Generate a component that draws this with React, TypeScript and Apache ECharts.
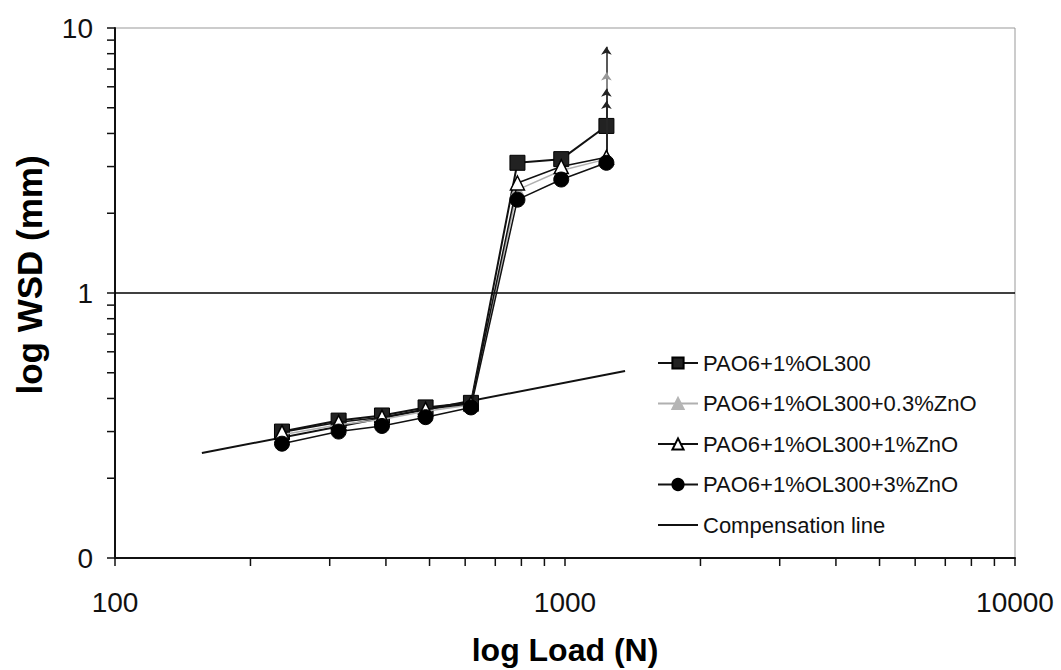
import React, { useEffect, useRef } from "react";
import * as echarts from "echarts";

// Loads (N)
const loads = [235, 314, 392, 490, 618, 784, 981, 1236];
// WSD (mm) per lubricant
const wsdOL300 = [0.3, 0.33, 0.345, 0.37, 0.385, 3.1, 3.2, 4.27];
const wsdZnO03 = [0.292, 0.318, 0.333, 0.358, 0.378, 2.45, 2.9, 3.2];
const wsdZnO1 = [0.298, 0.325, 0.34, 0.364, 0.382, 2.6, 3.0, 3.25];
const wsdZnO3 = [0.27, 0.3, 0.315, 0.34, 0.37, 2.25, 2.68, 3.1];
// Arrow tips above the last load (welding)
const arrowTops = [8.5, 6.8, 5.9, 5.3];
// Compensation line
const compLoads = [156, 1360];
const compWsd = [0.249, 0.508];

const seriesNames = [
  "PAO6+1%OL300",
  "PAO6+1%OL300+0.3%ZnO",
  "PAO6+1%OL300+1%ZnO",
  "PAO6+1%OL300+3%ZnO",
  "Compensation line",
];

// Axis ticks
const xMin = 100;
const xMax = 10000;
const yMin = 0.1;
const yMax = 10;
const xTickValues = [100, 200, 300, 400, 500, 600, 700, 800, 900, 1000, 2000, 3000, 4000, 5000, 6000, 7000, 8000, 9000, 10000];
const yTickValues = [0.1, 0.2, 0.3, 0.4, 0.5, 0.6, 0.7, 0.8, 0.9, 1, 2, 3, 4, 5, 6, 7, 8, 9, 10];
const yLabelValues = [0.1, 1, 10];
const yLabelTexts = ["0", "1", "10"];
const refLineY = 1;

const FONT = "'Liberation Sans', Arial, Helvetica, sans-serif";
const TICK_LEN = 8;

export default function App() {
  const ref = useRef<HTMLDivElement>(null);
  useEffect(() => {
    if (!ref.current) return;
    const chart = echarts.init(ref.current, undefined, { renderer: "svg" });
    const seriesData = [wsdOL300, wsdZnO03, wsdZnO1, wsdZnO3];
    const styles = [
      { symbol: "rect", size: 15, fill: "#222", border: "#000", line: "#111", lw: 2 },
      { symbol: "triangle", size: 14, fill: "#b5b5b5", border: "#b5b5b5", line: "#b0b0b0", lw: 1.5 },
      { symbol: "triangle", size: 14, fill: "#fff", border: "#000", line: "#111", lw: 1.5 },
      { symbol: "circle", size: 15, fill: "#000", border: "#000", line: "#111", lw: 1.5 },
    ];
    const dataSeries = seriesData.map((vals, i) => {
      const st = styles[i];
      const last = loads.length - 1;
      return {
        name: seriesNames[i],
        type: "line",
        data: loads.map((x, j) => [x, vals[j]]),
        symbol: st.symbol,
        symbolSize: st.size,
        z: 3 + i,
        itemStyle: { color: st.fill, borderColor: st.border, borderWidth: i === 2 ? 1.5 : 1 },
        lineStyle: { color: st.line, width: st.lw },
        markLine: {
          silent: true,
          symbol: ["none", "arrow"],
          symbolSize: 8,
          label: { show: false },
          lineStyle: { color: i === 1 ? "#999" : "#222", width: 1.5, type: "solid" },
          data: [[{ coord: [loads[last], vals[last]] }, { coord: [loads[last], arrowTops[i]] }]],
        },
      };
    });

    const tickStyle = { stroke: "#111", lineWidth: 1.5 };
    const xTickSeries = {
      type: "custom",
      silent: true,
      clip: false,
      z: 10,
      data: xTickValues.map((v) => [v, yMin]),
      renderItem: (_p: any, api: any) => {
        const pt = api.coord([api.value(0), api.value(1)]);
        return {
          type: "line",
          shape: { x1: pt[0], y1: pt[1], x2: pt[0], y2: pt[1] + TICK_LEN },
          style: tickStyle,
        };
      },
    };
    const yTickSeries = {
      type: "custom",
      silent: true,
      clip: false,
      z: 10,
      data: yTickValues.map((v) => [xMin, v]),
      renderItem: (_p: any, api: any) => {
        const pt = api.coord([api.value(0), api.value(1)]);
        return {
          type: "line",
          shape: { x1: pt[0], y1: pt[1], x2: pt[0] - TICK_LEN, y2: pt[1] },
          style: tickStyle,
        };
      },
    };

    const option = {
      animation: false,
      backgroundColor: "#fff",
      textStyle: { fontFamily: FONT },
      grid: {
        left: 115,
        right: 46,
        top: 28,
        bottom: 112,
        outerBoundsMode: "none",
        containLabel: false,
        show: true,
        borderColor: "#999",
        borderWidth: 1,
      },
      legend: {
        orient: "vertical",
        left: 652,
        top: 347,
        itemWidth: 40,
        itemHeight: 14,
        itemGap: 18.5,
        textStyle: { fontSize: 22, color: "#111", fontFamily: FONT },
        data: [
          seriesNames[0],
          seriesNames[1],
          seriesNames[2],
          seriesNames[3],
          { name: seriesNames[4], itemStyle: { opacity: 0 } },
        ],
      },
      xAxis: {
        type: "log",
        logBase: 10,
        min: xMin,
        max: xMax,
        name: "log Load (N)",
        nameLocation: "middle",
        nameGap: 76,
        nameTextStyle: { fontSize: 32, fontWeight: "bold", color: "#000", fontFamily: FONT },
        axisLine: { show: true, lineStyle: { color: "#111", width: 2 } },
        axisTick: { show: false },
        axisLabel: {
          fontSize: 28,
          color: "#111",
          margin: 30,
          fontFamily: FONT,
          formatter: (v: number) => String(Math.round(v)),
        },
        splitLine: { show: false },
      },
      yAxis: {
        type: "log",
        logBase: 10,
        min: yMin,
        max: yMax,
        name: "log WSD (mm)",
        nameLocation: "middle",
        nameGap: 68,
        nameTextStyle: {
          fontSize: 35,
          fontWeight: "bold",
          color: "#000",
          fontFamily: FONT,
          padding: [0, 0, 0, 36],
        },
        axisLine: { show: true, lineStyle: { color: "#111", width: 2 } },
        axisTick: { show: false },
        axisLabel: {
          fontSize: 28,
          color: "#111",
          margin: 22,
          fontFamily: FONT,
          formatter: (v: number) => {
            let best = 0;
            yLabelValues.forEach((lv, k) => {
              if (Math.abs(Math.log10(v) - Math.log10(lv)) < Math.abs(Math.log10(v) - Math.log10(yLabelValues[best]))) best = k;
            });
            return yLabelTexts[best];
          },
        },
        splitLine: { show: false },
      },
      series: [
        {
          name: seriesNames[4],
          type: "line",
          data: compLoads.map((x, j) => [x, compWsd[j]]),
          symbol: "none",
          z: 2,
          itemStyle: { color: "#111" },
          lineStyle: { color: "#111", width: 2 },
          markLine: {
            silent: true,
            symbol: ["none", "none"],
            label: { show: false },
            lineStyle: { color: "#000", width: 1.5, type: "solid" },
            data: [{ yAxis: refLineY }],
          },
        },
        ...dataSeries,
        xTickSeries,
        yTickSeries,
      ],
    };
    chart.setOption(option as any);
    return () => chart.dispose();
  }, []);
  return (
    <div
      ref={ref}
      style={{ position: "fixed", left: 0, top: 0, width: 1061, height: 670, background: "#fff" }}
    />
  );
}
